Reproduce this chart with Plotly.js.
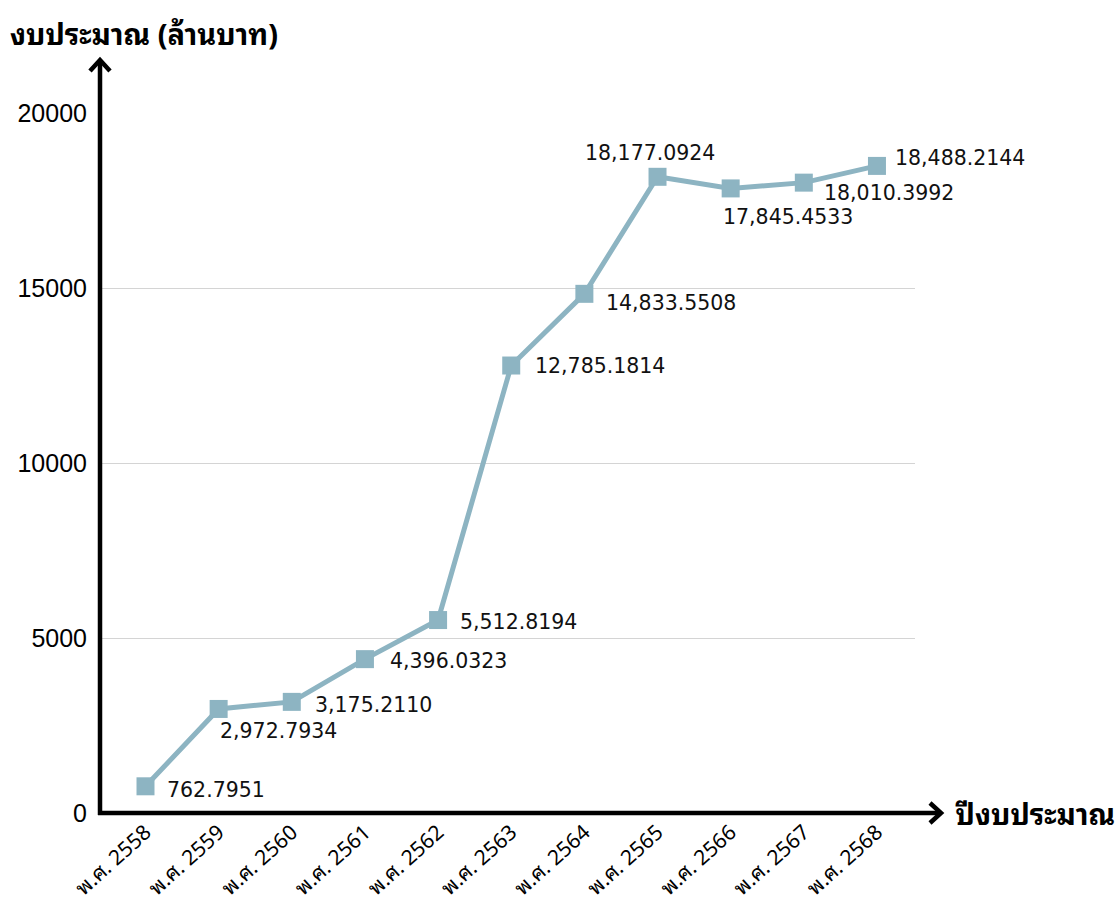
<!DOCTYPE html>
<html>
<head>
<meta charset="utf-8">
<script src="https://cdn.plot.ly/plotly-3.0.1.min.js"></script>
<style>
  html, body { margin: 0; padding: 0; background: #ffffff; }
  #chart { width: 1115px; height: 907px; }
</style>
</head>
<body>
<div id="chart"></div>
<script>
// ---- data ----
const years = ["พ.ศ. 2558", "พ.ศ. 2559", "พ.ศ. 2560", "พ.ศ. 2561", "พ.ศ. 2562", "พ.ศ. 2563",
               "พ.ศ. 2564", "พ.ศ. 2565", "พ.ศ. 2566", "พ.ศ. 2567", "พ.ศ. 2568"];
const budget = [762.7951, 2972.7934, 3175.2110, 4396.0323, 5512.8194, 12785.1814,
                14833.5508, 18177.0924, 17845.4533, 18010.3992, 18488.2144];
const yTicks = [0, 5000, 10000, 15000, 20000];
const yTitle = "งบประมาณ (ล้านบาท)";
const xTitle = "ปีงบประมาณ";

// ---- label placement (style only) ----
const labelPlace = [
  {anchor: "left", dx: 19, dy: -4},
  {anchor: "left", dx: -1, dy: -22},
  {anchor: "left", dx: 21, dy: -3},
  {anchor: "left", dx: 23, dy: -2},
  {anchor: "left", dx: 20, dy: -2},
  {anchor: "left", dx: 22, dy: 0},
  {anchor: "left", dx: 20, dy: -9},
  {anchor: "center", dx: -8, dy: 24},
  {anchor: "left", dx: -10, dy: -29},
  {anchor: "left", dx: 18, dy: -10},
  {anchor: "left", dx: 16, dy: 8}
];

const fmt = new Intl.NumberFormat("en-US", {minimumFractionDigits: 4, maximumFractionDigits: 4});
const lineColor = "#8db4c2";
const thaiFont = "Noto Sans Thai Looped, Garuda, Loma, Tahoma, Noto Sans Thai, Noto Sans, DejaVu Sans, sans-serif";
const latinFont = "Liberation Sans, Arial, sans-serif";
const labelFont = "DejaVu Sans, Verdana, sans-serif";

// plot area in pixels
const W = 1115, H = 907;
const L = 100, R = 915, T = 113, B = 813;
const px = v => (v - L) / (R - L);
const py = v => (B - v) / (B - T);

const trace = {
  type: "scatter",
  mode: "lines+markers",
  x: years,
  y: budget,
  line: {color: lineColor, width: 5},
  marker: {symbol: "square", size: 18, color: lineColor},
  hoverinfo: "x+y",
  cliponaxis: false
};

const annotations = budget.map((v, i) => ({
  x: years[i], y: v, xref: "x", yref: "y",
  text: fmt.format(v),
  showarrow: false,
  xanchor: labelPlace[i].anchor, yanchor: "middle",
  xshift: labelPlace[i].dx, yshift: labelPlace[i].dy,
  font: {family: labelFont, size: 20.5, color: "#111111"}
}));

annotations.push({
  x: px(8), y: py(32), xref: "paper", yref: "paper",
  xanchor: "left", yanchor: "middle", showarrow: false,
  text: "<b>" + yTitle + "</b>",
  font: {family: thaiFont, size: 29, color: "#000000"}
});
annotations.push({
  x: px(953), y: py(812), xref: "paper", yref: "paper",
  xanchor: "left", yanchor: "middle", showarrow: false,
  text: "<b>" + xTitle + "</b>",
  font: {family: thaiFont, size: 29, color: "#000000"}
});

const axisLine = {color: "#000000", width: 4.5};
const shapes = [
  // y axis with arrow
  {type: "path", xref: "paper", yref: "paper", layer: "above",
   path: `M ${px(100)} ${py(815)} L ${px(100)} ${py(60)}`, line: axisLine},
  {type: "path", xref: "paper", yref: "paper", layer: "above",
   path: `M ${px(90)} ${py(71)} L ${px(100)} ${py(60)} L ${px(110)} ${py(71)}`, line: axisLine},
  // x axis with arrow
  {type: "path", xref: "paper", yref: "paper", layer: "above",
   path: `M ${px(98)} ${py(813)} L ${px(941)} ${py(813)}`, line: axisLine},
  {type: "path", xref: "paper", yref: "paper", layer: "above",
   path: `M ${px(930)} ${py(803)} L ${px(941)} ${py(813)} L ${px(930)} ${py(823)}`, line: axisLine}
];

const layout = {
  width: W, height: H,
  margin: {l: L, r: W - R, t: T, b: H - B, pad: 0},
  paper_bgcolor: "#ffffff",
  plot_bgcolor: "#ffffff",
  showlegend: false,
  xaxis: {
    type: "category",
    range: [-0.622, 10.52],
    showgrid: false, zeroline: false, showline: false,
    ticks: "", tickangle: -42,
    tickfont: {family: thaiFont, size: 21, color: "#000000"},
    ticklabelstandoff: 2
  },
  yaxis: {
    range: [0, 20000],
    tickvals: yTicks,
    ticktext: yTicks.map(String),
    showgrid: true, gridcolor: "#d4d4d4", gridwidth: 1,
    zeroline: false, showline: false, ticks: "",
    tickfont: {family: latinFont, size: 25, color: "#000000"},
    ticklabelstandoff: 12
  },
  annotations: annotations,
  shapes: shapes
};

Plotly.newPlot("chart", [trace], layout, {displayModeBar: false, staticPlot: true});
</script>
</body>
</html>
